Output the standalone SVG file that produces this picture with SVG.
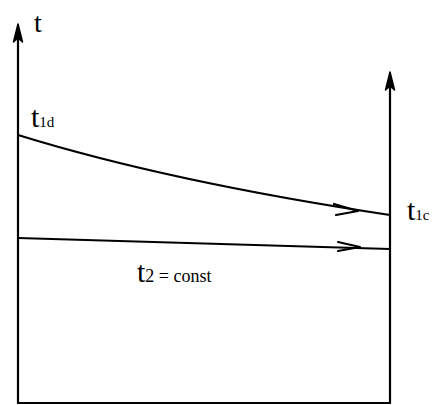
<svg xmlns="http://www.w3.org/2000/svg" width="434" height="405" viewBox="0 0 434 405">
<style>
.ln{fill:none;stroke:#000;stroke-width:2.2;stroke-linecap:round;stroke-linejoin:round}
.big{font-family:"Liberation Serif",serif;font-size:30px;fill:#000}
.sub{font-family:"Liberation Serif",serif;font-size:15px;fill:#000}
.sub2{font-family:"Liberation Serif",serif;font-size:18px;fill:#000}
.top{font-family:"Liberation Serif",serif;font-size:28px;fill:#000}
</style>
<rect width="434" height="405" fill="#fff"/>
<g id="frame">
<path class="ln" d="M18,403 L18,28"/>
<path class="ln" d="M390,403 L390,76"/>
<path class="ln" d="M18,403 L390,403"/>
<path d="M18,24 L13.5,42 L18,38 L22.5,42 Z" fill="#000" stroke="#000" stroke-width="1.5" stroke-linejoin="round"/>
<path d="M390,72 L385.5,90 L390,86 L394.5,90 Z" fill="#000" stroke="#000" stroke-width="1.5" stroke-linejoin="round"/>
</g>
<g id="connectors">
<path class="ln" d="M18,135 Q170,182 390,215"/>
<path class="ln" d="M334,204 L358,211 L336,215"/>
<path class="ln" d="M18,238 L390,249"/>
<path class="ln" d="M338,242 L360,247 L338,251"/>
</g>
<g id="labels">
<text class="top" x="34" y="32">t</text>
<text x="31" y="127"><tspan class="big">t</tspan><tspan class="sub">1d</tspan></text>
<text x="407" y="220"><tspan class="big">t</tspan><tspan class="sub">1c</tspan></text>
<text x="137" y="282"><tspan class="big">t</tspan><tspan class="sub2">2 = const</tspan></text>
</g>
</svg>
